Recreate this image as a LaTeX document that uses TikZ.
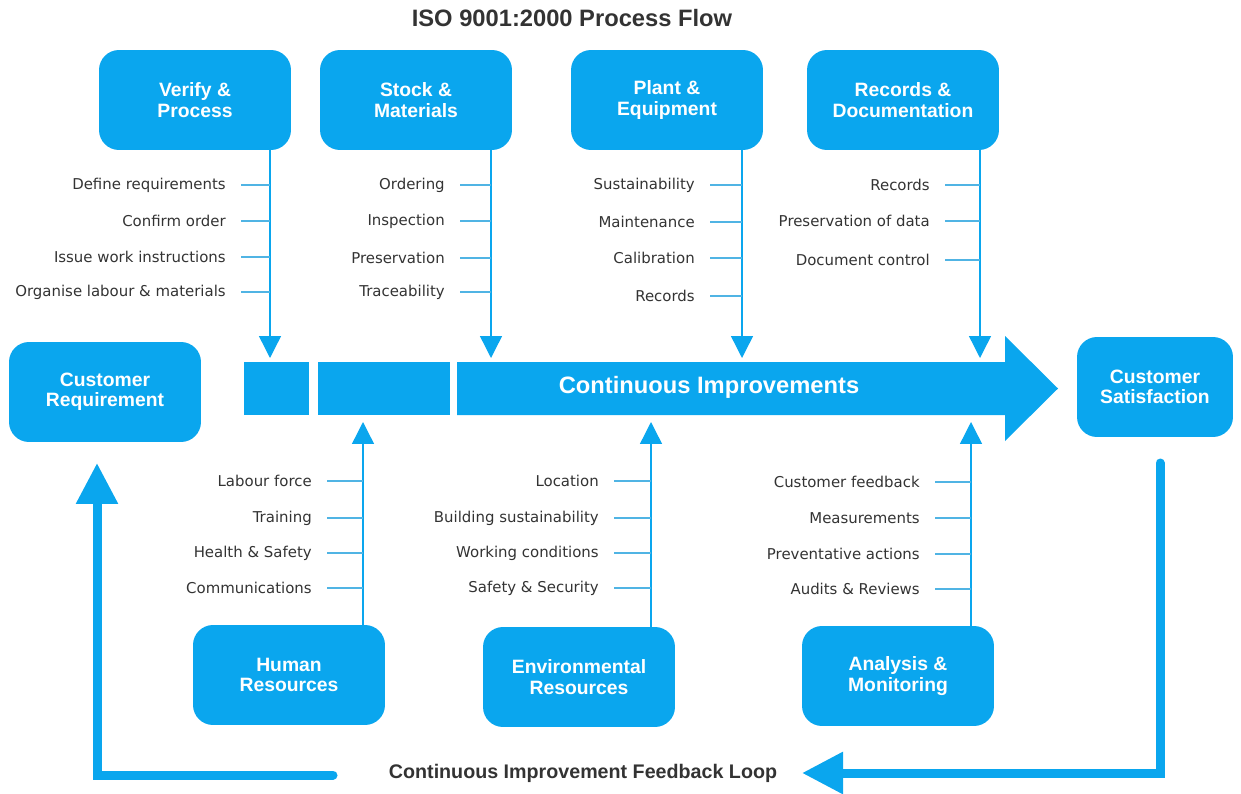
\documentclass[tikz,border=0pt]{standalone}
\usepackage{fontspec}
\setmainfont{DejaVu Sans}
\setsansfont{Liberation Sans}
\usepackage{xcolor}
\usepackage{tikz}
\usetikzlibrary{arrows.meta}

\definecolor{isoblue}{RGB}{10,166,238}
\definecolor{tickblue}{RGB}{80,180,228}
\definecolor{textgray}{RGB}{51,51,51}

\begin{document}
\begin{tikzpicture}[x=0.02cm,y=-0.02cm,
  box/.style={fill=isoblue,rounded corners=0.4cm,minimum width=3.84cm,minimum height=2cm,text=white,align=center,font=\sffamily\bfseries\fontsize{11}{11.5}\selectfont},
  lbl/.style={anchor=east,inner xsep=8.5pt,inner ysep=0pt,text=textgray,font=\fontsize{8.5}{10}\selectfont},
  tick/.style={tickblue,line width=0.8pt},
  conn/.style={isoblue,line width=0.8pt,-{Triangle[length=0.44cm,width=0.44cm]}},
  loop/.style={isoblue,line width=0.18cm,line cap=round,-{Triangle[length=0.82cm,width=0.8cm]}}]
\useasboundingbox (0,0) rectangle (1241,794);

\node [text=textgray,font=\sffamily\bfseries\fontsize{13.5}{14}\selectfont] (title) at (572,18) {ISO 9001:2000 Process Flow};

% top boxes
\node [box] (verify) at (195,100) {Verify \&\\Process};
\node [box] (stock) at (416,100) {Stock \&\\Materials};
\node [box] (plant) at (667,100) {Plant \&\\Equipment};
\node [box] (records) at (903,100) {Records \&\\Documentation};

% bottom boxes
\node [box] (human) at (289,675) {Human\\Resources};
\node [box] (environ) at (579,677) {Environmental\\Resources};
\node [box] (analysis) at (898,676) {Analysis \&\\Monitoring};

\node [box] (custreq) at (105,392) {Customer\\Requirement};
\node [box,minimum width=3.12cm] (custsat) at (1155,387) {Customer\\Satisfaction};

%
\node [fill=isoblue,inner sep=0pt,minimum width=1.3cm,minimum height=1.06cm] (block1) at (276.5,388.5) {};
\node [fill=isoblue,inner sep=0pt,minimum width=2.64cm,minimum height=1.06cm] (block2) at (384,388.5) {};
\fill [isoblue] (457,362) -- (1005,362) -- (1005,336) -- (1058,388.5) -- (1005,441) -- (1005,415) -- (457,415) -- cycle;
\node [text=white,font=\sffamily\bfseries\fontsize{13.5}{14}\selectfont] (ci) at (709,387) {Continuous Improvements};
%

\coordinate (vtip) at (270,358);
\coordinate (stip) at (491,358);
\coordinate (ptip) at (742,358);
\coordinate (rtip) at (980,358);
\coordinate (htip) at (363,422);
\coordinate (etip) at (651,422);
\coordinate (atip) at (971,422);

\draw [conn] (verify.south -| vtip) -- (vtip);
\draw [conn] (stock.south -| stip) -- (stip);
\draw [conn] (plant.south -| ptip) -- (ptip);
\draw [conn] (records.south -| rtip) -- (rtip);
\draw [conn] (human.north -| htip) -- (htip);
\draw [conn] (environ.north -| etip) -- (etip);
\draw [conn] (analysis.north -| atip) -- (atip);

% verify & process
\node [lbl] (v1) at (241,185) {Define requirements};
\node [lbl] (v2) at (241,221) {Confirm order};
\node [lbl] (v3) at (241,257) {Issue work instructions};
\node [lbl] (v4) at (241,292) {Organise labour \& materials};
\draw [tick] (v1.east) -- (v1.east -| vtip);
\draw [tick] (v2.east) -- (v2.east -| vtip);
\draw [tick] (v3.east) -- (v3.east -| vtip);
\draw [tick] (v4.east) -- (v4.east -| vtip);

% stock & materials
\node [lbl] (s1) at (460,185) {Ordering};
\node [lbl] (s2) at (460,221) {Inspection};
\node [lbl] (s3) at (460,258) {Preservation};
\node [lbl] (s4) at (460,292) {Traceability};
\draw [tick] (s1.east) -- (s1.east -| stip);
\draw [tick] (s2.east) -- (s2.east -| stip);
\draw [tick] (s3.east) -- (s3.east -| stip);
\draw [tick] (s4.east) -- (s4.east -| stip);

% plant & equipment
\node [lbl] (p1) at (710,185) {Sustainability};
\node [lbl] (p2) at (710,222) {Maintenance};
\node [lbl] (p3) at (710,258) {Calibration};
\node [lbl] (p4) at (710,296) {Records};
\draw [tick] (p1.east) -- (p1.east -| ptip);
\draw [tick] (p2.east) -- (p2.east -| ptip);
\draw [tick] (p3.east) -- (p3.east -| ptip);
\draw [tick] (p4.east) -- (p4.east -| ptip);

% records & documentation
\node [lbl] (r1) at (945,185) {Records};
\node [lbl] (r2) at (945,221) {Preservation of data};
\node [lbl] (r3) at (945,260) {Document control};
\draw [tick] (r1.east) -- (r1.east -| rtip);
\draw [tick] (r2.east) -- (r2.east -| rtip);
\draw [tick] (r3.east) -- (r3.east -| rtip);

% human resources
\node [lbl] (h1) at (327,481) {Labour force};
\node [lbl] (h2) at (327,518) {Training};
\node [lbl] (h3) at (327,553) {Health \& Safety};
\node [lbl] (h4) at (327,588) {Communications};
\draw [tick] (h1.east) -- (h1.east -| htip);
\draw [tick] (h2.east) -- (h2.east -| htip);
\draw [tick] (h3.east) -- (h3.east -| htip);
\draw [tick] (h4.east) -- (h4.east -| htip);

% environmental resources
\node [lbl] (e1) at (614,481) {Location};
\node [lbl] (e2) at (614,518) {Building sustainability};
\node [lbl] (e3) at (614,553) {Working conditions};
\node [lbl] (e4) at (614,588) {Safety \& Security};
\draw [tick] (e1.east) -- (e1.east -| etip);
\draw [tick] (e2.east) -- (e2.east -| etip);
\draw [tick] (e3.east) -- (e3.east -| etip);
\draw [tick] (e4.east) -- (e4.east -| etip);

% analysis & monitoring
\node [lbl] (a1) at (935,482) {Customer feedback};
\node [lbl] (a2) at (935,518) {Measurements};
\node [lbl] (a3) at (935,554) {Preventative actions};
\node [lbl] (a4) at (935,589) {Audits \& Reviews};
\draw [tick] (a1.east) -- (a1.east -| atip);
\draw [tick] (a2.east) -- (a2.east -| atip);
\draw [tick] (a3.east) -- (a3.east -| atip);
\draw [tick] (a4.east) -- (a4.east -| atip);

% feedback loop
\node [text=textgray,font=\sffamily\bfseries\fontsize{11.2}{12}\selectfont] (fbl) at (583,773) {Continuous Improvement Feedback Loop};
\coordinate (fbtop) at (1160,463);
\coordinate (fbtip) at (802,773);
\coordinate (fbtail) at (333,775);
\coordinate (crtip) at (97,463);
\draw [loop] (fbtop) |- (fbtip);
\draw [loop] (fbtail) -| (crtip);
\end{tikzpicture}
\end{document}
